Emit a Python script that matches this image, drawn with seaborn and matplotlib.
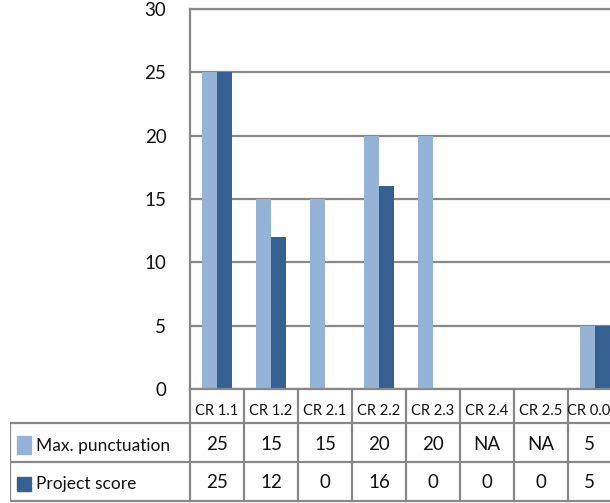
import numpy as np
import pandas as pd
import matplotlib
matplotlib.use("Agg")
import matplotlib.pyplot as plt
from matplotlib.patches import Rectangle
import seaborn as sns

categories = ["CR 1.1", "CR 1.2", "CR 2.1", "CR 2.2", "CR 2.3", "CR 2.4", "CR 2.5", "CR 0.0"]
max_punctuation = [25, 15, 15, 20, 20, np.nan, np.nan, 5]
project_score = [25, 12, 0, 16, 0, 0, 0, 5]
series_names = ["Max. punctuation", "Project score"]
yticks = [0, 5, 10, 15, 20, 25, 30]

LIGHT = "#95B3D7"
DARK = "#376092"
GRID = "#888888"
TEXT = "#111111"

sns.set_style("white")
plt.rcParams["font.family"] = ["Lato", "DejaVu Sans"]
plt.rcParams["text.color"] = TEXT
plt.rcParams["ytick.color"] = TEXT

df = pd.DataFrame({
    "category": categories * 2,
    "series": [series_names[0]] * len(categories) + [series_names[1]] * len(categories),
    "value": max_punctuation + project_score,
})

W, H = 610, 503
fig = plt.figure(figsize=(W / 100, H / 100), dpi=100)


def rect(x0, y0, x1, y1):
    return [x0 / W, 1 - y1 / H, (x1 - x0) / W, (y1 - y0) / H]


col_w = 54.0
ax = fig.add_axes(rect(190, 9, 190 + col_w * len(categories), 389))
sns.barplot(data=df, x="category", y="value", hue="series",
            palette=[LIGHT, DARK], width=0.57, saturation=1,
            linewidth=0, edgecolor="none",
            legend=False, ax=ax, order=categories, hue_order=series_names)
ax.set_xlim(-0.5, len(categories) - 0.5)
ax.set_ylim(0, 30)
ax.set_yticks(yticks)
ax.set_yticklabels([str(v) for v in yticks], fontsize=13.5)
ax.tick_params(axis="y", length=0, pad=17)
ax.set_xticks([])
ax.set_xlabel("")
ax.set_ylabel("")
ax.yaxis.grid(True, color=GRID, linewidth=1.6)
ax.set_axisbelow(True)
for side in ["left", "top", "bottom", "right"]:
    ax.spines[side].set_color(GRID)
    ax.spines[side].set_linewidth(1.6)

# data table underneath the chart
left_px = 10
x_left = -0.5 - (190 - left_px) / col_w
x_visible = x_left + (W - left_px) / col_w  # right edge of the canvas in column units
tax = fig.add_axes(rect(left_px, 389, 190 + col_w * len(categories), 503))
tax.set_xlim(x_left, len(categories) - 0.5)
tax.set_ylim(503, 389)
tax.axis("off")

row_edges = [389, 423, 462, 501]
for y in row_edges[1:]:
    tax.plot([x_left, len(categories) - 0.5], [y, y], color=GRID, lw=1.6, solid_capstyle="butt")
tax.plot([x_left, x_left], [row_edges[1], row_edges[3]], color=GRID, lw=1.6)
for i in range(len(categories) + 1):
    tax.plot([i - 0.5, i - 0.5], [row_edges[0], row_edges[3]], color=GRID, lw=1.6)

# centre each cell's text within the visible part of its column
cell_x = [((i - 0.5) + min(i + 0.5, x_visible)) / 2 for i in range(len(categories))]

for i, c in enumerate(categories):
    tax.text(cell_x[i], 411, c, ha="center", va="center", fontsize=10.5)

max_labels = ["NA" if np.isnan(v) else str(int(v)) for v in max_punctuation]
score_labels = [str(int(v)) for v in project_score]
for i in range(len(categories)):
    tax.text(cell_x[i], 444, max_labels[i], ha="center", va="center", fontsize=13.5)
    tax.text(cell_x[i], 483, score_labels[i], ha="center", va="center", fontsize=13.5)

# legend keys inside the table
fig.patches.append(Rectangle((17 / W, 1 - 454 / H), 14 / W, 18 / H,
                             transform=fig.transFigure, color=LIGHT))
fig.patches.append(Rectangle((17 / W, 1 - 491 / H), 14 / W, 14 / H,
                             transform=fig.transFigure, color=DARK))
fig.text(36 / W, 1 - 446 / H, series_names[0], ha="left", va="center", fontsize=12.5)
fig.text(36 / W, 1 - 484 / H, series_names[1], ha="left", va="center", fontsize=12.5)

fig.savefig("out.png", dpi=100)
